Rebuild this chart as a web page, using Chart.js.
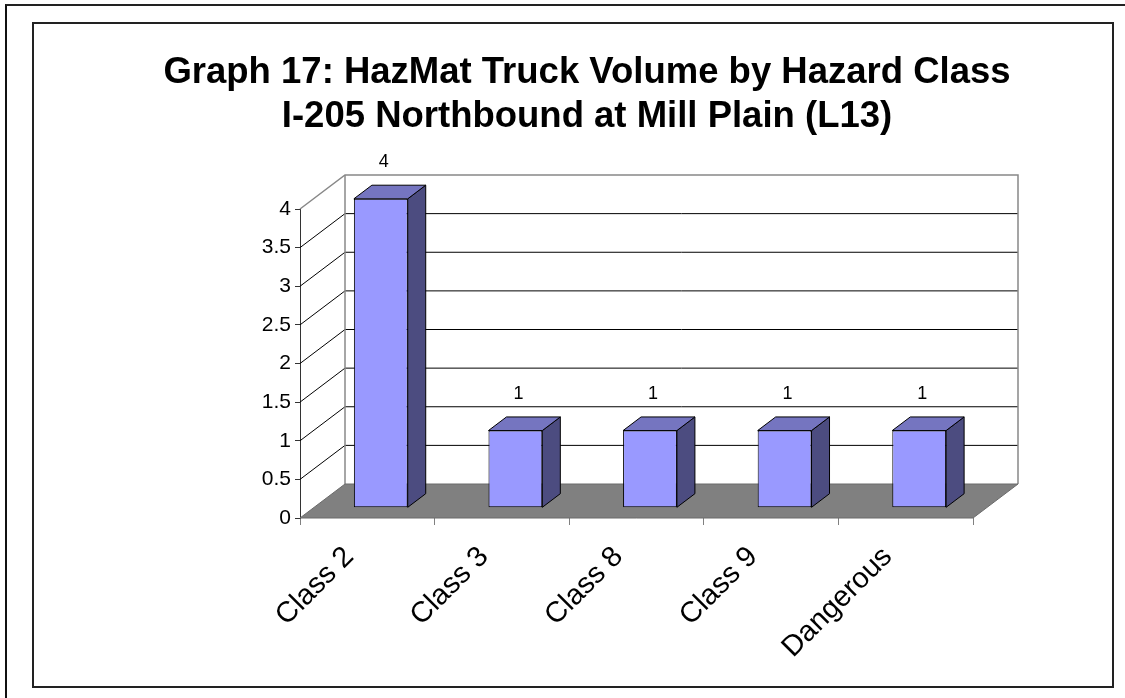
<!DOCTYPE html>
<html>
<head>
<meta charset="utf-8">
<script src="https://cdn.jsdelivr.net/npm/chart.js@4.4.0/dist/chart.umd.min.js"></script>
<style>
  body { margin: 0; background: #fff; }
  #outer { position: absolute; left: 5px; top: 4px; width: 1130px; height: 700px; border-left: 2px solid #111; border-top: 2px solid #222; }
  #inner { position: absolute; left: 32px; top: 22px; width: 1078px; height: 662px; border: 2px solid #222; }
  #wrap { position: absolute; left: 0; top: 0; width: 1125px; height: 698px; }
</style>
</head>
<body>
<div id="outer"></div>
<div id="inner"></div>
<div id="wrap"><canvas id="chart"></canvas></div>
<script>
const categories = ['Class 2', 'Class 3', 'Class 8', 'Class 9', 'Dangerous'];
const truckCounts = [4, 1, 1, 1, 1];
const titleLines = ['Graph 17: HazMat Truck Volume by Hazard Class', 'I-205 Northbound at Mill Plain (L13)'];

const FONT = "'Liberation Sans', Arial, Helvetica, sans-serif";
// depth of the 3d box, and where the bars sit inside it
const DX = 45, DY = 34;
const BAR_FRONT = 0.3, BAR_DEPTH = 0.4;

function line(ctx, pts, color, width) {
    ctx.beginPath();
    ctx.moveTo(pts[0][0], pts[0][1]);
    for (let i = 1; i < pts.length; i++) ctx.lineTo(pts[i][0], pts[i][1]);
    ctx.strokeStyle = color;
    ctx.lineWidth = width;
    ctx.stroke();
}

function poly(ctx, pts, fill, stroke) {
    ctx.beginPath();
    ctx.moveTo(pts[0][0], pts[0][1]);
    for (let i = 1; i < pts.length; i++) ctx.lineTo(pts[i][0], pts[i][1]);
    ctx.closePath();
    ctx.fillStyle = fill;
    ctx.fill();
    if (stroke) {
        ctx.strokeStyle = stroke;
        ctx.lineWidth = 1;
        ctx.stroke();
    }
}

const box3d = {
    id: 'box3d',
    beforeDatasetsDraw(chart) {
        const ctx = chart.ctx;
        const a = chart.chartArea;
        const ys = chart.scales.y;
        const y0 = ys.getPixelForValue(ys.min);
        const yTop = ys.getPixelForValue(ys.max);

        ctx.save();
        // back wall
        ctx.fillStyle = '#fff';
        ctx.fillRect(a.left + DX, yTop - DY, a.right - a.left, y0 - yTop);
        // grid lines: left wall diagonal + back wall
        ys.ticks.forEach(t => {
            if (t.value <= ys.min || t.value >= ys.max) return;
            const py = ys.getPixelForValue(t.value);
            line(ctx, [[a.left, py], [a.left + DX, py - DY], [a.right + DX, py - DY]], '#000', 1);
        });
        // wall outlines
        line(ctx, [[a.left, yTop], [a.left + DX, yTop - DY], [a.right + DX, yTop - DY], [a.right + DX, y0 - DY]], '#888', 1.5);
        line(ctx, [[a.left + DX, yTop - DY], [a.left + DX, y0 - DY]], '#888', 1.5);
        // floor
        poly(ctx, [[a.left, y0], [a.right, y0], [a.right + DX, y0 - DY], [a.left + DX, y0 - DY]], '#808080', '#6a6a6a');
        ctx.restore();

        ctx.save();
        ctx.translate(DX * BAR_FRONT, -DY * BAR_FRONT);
    },
    afterDatasetsDraw(chart) {
        const ctx = chart.ctx;
        ctx.restore();
        const ox = DX * BAR_FRONT, oy = -DY * BAR_FRONT;
        const bx = DX * BAR_DEPTH, by = DY * BAR_DEPTH;
        const meta = chart.getDatasetMeta(0);
        ctx.save();
        meta.data.forEach((el, i) => {
            const p = el.getProps(['x', 'y', 'base', 'width'], true);
            const l = p.x - p.width / 2 + ox, r = p.x + p.width / 2 + ox;
            const t = p.y + oy, b = p.base + oy;
            poly(ctx, [[r, t], [r + bx, t - by], [r + bx, b - by], [r, b]], '#4c4c80', '#000');
            poly(ctx, [[l, t], [l + bx, t - by], [r + bx, t - by], [r, t]], '#7575c0', '#000');
            ctx.fillStyle = '#000';
            ctx.font = '18px ' + FONT;
            ctx.textAlign = 'center';
            ctx.textBaseline = 'bottom';
            ctx.fillText(String(truckCounts[i]), p.x + ox + 3, t - by - 14);
        });
        ctx.restore();
    },
    afterDraw(chart) {
        // two-line title, drawn wide (the built-in title box would squeeze it)
        const ctx = chart.ctx;
        ctx.save();
        ctx.fillStyle = '#000';
        ctx.font = 'bold 36.5px ' + FONT;
        ctx.textAlign = 'center';
        ctx.textBaseline = 'alphabetic';
        ctx.fillText(titleLines[0], 587, 83);
        ctx.fillText(titleLines[1], 587, 127);
        ctx.restore();
    }
};

new Chart(document.getElementById('chart'), {
    type: 'bar',
    data: {
        labels: categories,
        datasets: [{
            data: truckCounts,
            backgroundColor: '#9999ff',
            borderColor: '#000',
            borderWidth: 1,
            borderSkipped: false,
            categoryPercentage: 1.0,
            barPercentage: 0.4
        }]
    },
    options: {
        responsive: true,
        maintainAspectRatio: false,
        animation: false,
        events: [],
        layout: { padding: { left: 202, right: 152, top: 209, bottom: 0 } },
        plugins: {
            legend: { display: false },
            tooltip: { enabled: false },
            title: { display: false }
        },
        scales: {
            x: {
                grid: { offset: true, drawOnChartArea: false, tickLength: 7, color: '#808080' },
                border: { display: false },
                ticks: { color: '#000', font: { family: FONT, size: 29 }, maxRotation: 45, minRotation: 45, padding: 15, labelOffset: -18 },
                afterFit(scale) { scale.height = 180; }
            },
            y: {
                min: 0,
                max: 4,
                ticks: {
                    stepSize: 0.5, color: '#000', font: { family: FONT, size: 21 }, padding: 4,
                    callback: v => String(v)
                },
                grid: { drawOnChartArea: false, tickLength: 5, color: '#333' },
                border: { color: '#333', width: 1 },
                afterFit(scale) { scale.width = 98; }
            }
        }
    },
    plugins: [box3d]
});
</script>
</body>
</html>
